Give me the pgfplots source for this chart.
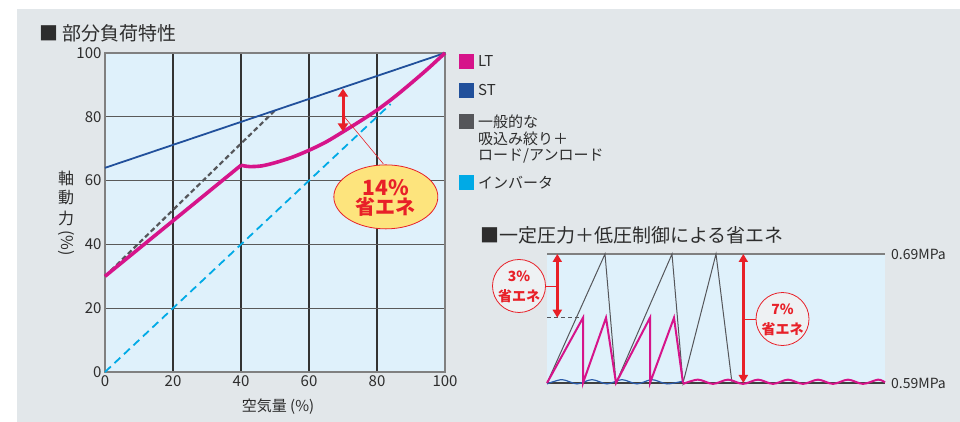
\documentclass[border=0pt]{standalone}
\usepackage{fontspec}
\setmainfont{Noto Sans CJK JP}
\usepackage{pgfplots}
\pgfplotsset{compat=1.18}
\usetikzlibrary{arrows.meta}
\definecolor{panel}{RGB}{226,231,234}
\definecolor{plotbg}{RGB}{223,241,251}
\definecolor{lt}{RGB}{214,20,138}
\definecolor{st}{RGB}{33,80,155}
\definecolor{gen}{RGB}{85,86,90}
\definecolor{inv}{RGB}{0,170,230}
\definecolor{myred}{RGB}{232,32,40}
\definecolor{bubble}{RGB}{253,228,125}
\definecolor{txt}{RGB}{45,45,45}
\definecolor{wave}{RGB}{42,92,170}
\definecolor{cfill}{RGB}{238,241,243}
\begin{document}
\begin{tikzpicture}[x=1pt,y=1pt]
\fill[white] (0pt,0pt) rectangle (960pt,422pt);
\fill[panel] (17pt,0pt) rectangle (960pt,413pt);

\begin{axis}[at={(105pt,50pt)}, anchor=south west, scale only axis,
  width=340pt, height=319pt,
  xmin=0, xmax=100, ymin=0, ymax=100,
  xtick={0,20,...,100}, ytick={0,20,...,100},
  grid=major, x grid style={black!80, line width=1.3pt},
  y grid style={black!65, line width=1.3pt},
  axis line style={black!50, line width=1.2pt},
  major tick length=0pt,
  axis background/.style={fill=plotbg},
  tick label style={font=\fontsize{15}{15}\selectfont, text=txt},
  /pgf/number format/assume math mode=true,
  clip=false]
\addplot[inv, line width=1.8pt, dash pattern=on 8pt off 5pt] coordinates {(0,0) (84,84)};
\addplot[gen, line width=2.2pt, dash pattern=on 5pt off 3pt] coordinates {(0,30) (50,82)};
\addplot[st, line width=1.8pt] coordinates {(0,64) (100,100)};
\addplot[lt, line width=3.6pt] coordinates {(0,30) (40,64.8)};
\addplot[lt, line width=3.6pt, smooth] coordinates {(40,64.8) (42.5,64.4) (46,64.6) (50,65.6) (55,67.3) (60,69.5) (65,72.1) (70,75.3) (75,78.6) (80,82.1) (85,86.1) (90,90.5) (95,95.1) (100,100)};
\draw[myred, line width=3pt, {Triangle[length=8pt,width=10pt]}-{Triangle[length=8pt,width=10pt]}] (axis cs:70,88.8) -- (axis cs:70,75.4);
\draw[myred, line width=0.6pt] (axis cs:70,80.5) -- (axis cs:81.9,65.2);
\draw[myred, line width=0.8pt, fill=bubble] (axis cs:82.6,54.9) ellipse [x radius=52pt, y radius=32pt];
\node[text=myred, font=\fontsize{21}{21}\bfseries] at (axis cs:82.6,57.8) {14\%};
\node[text=myred, font=\fontsize{20}{20}\bfseries] at (axis cs:82.6,51.8) {省エネ};
\end{axis}

\begin{axis}[at={(547pt,39pt)}, anchor=south west, scale only axis,
  width=338pt, height=129pt,
  xmin=0, xmax=338, ymin=0.59, ymax=0.69,
  axis line style={draw=none}, ticks=none,
  axis background/.style={fill=plotbg},
  clip=false]
\addplot[black!50, line width=1.8pt] coordinates {(0,0.69) (338,0.69)};
\addplot[black!75, line width=1.2pt] coordinates {(0,0.59) (338,0.59)};
\addplot[gen, line width=1pt, dash pattern=on 4pt off 3pt] coordinates {(0,0.6406) (36,0.6406)};
\addplot[gen, line width=1pt] coordinates {(0,0.59) (58,0.69) (69,0.59) (125,0.69) (136,0.59) (169,0.69) (185,0.59)};
\addplot[wave, line width=1.2pt, smooth] coordinates {(0,0.5893) (15,0.5926) (30,0.5893) (45,0.5926) (60,0.5893) (75,0.5926) (90,0.5893) (105,0.5926) (120,0.5893) (136,0.5915)};
\addplot[lt, line width=2pt, smooth] coordinates {(136,0.5893) (151,0.5926) (166,0.5893) (181,0.5926) (196,0.5893) (211,0.5926) (226,0.5893) (241,0.5926) (256,0.5893) (271,0.5926) (286,0.5893) (301,0.5926) (316,0.5893) (331,0.5926) (338,0.5905)};
\addplot[lt, line width=2pt] coordinates {(0,0.59) (36,0.6406) (36,0.59) (59,0.6406) (69,0.59) (103,0.6406) (103,0.59) (127,0.6406) (136,0.59)};
\draw[myred, line width=2.6pt, {Triangle[length=8pt,width=9pt]}-{Triangle[length=8pt,width=9pt]}] (axis cs:10.3,0.69) -- (axis cs:10.3,0.6406);
\draw[myred, line width=2.6pt, {Triangle[length=8pt,width=9pt]}-{Triangle[length=8pt,width=9pt]}] (axis cs:196.3,0.69) -- (axis cs:196.3,0.59);
\draw[myred, line width=0.6pt] (axis cs:-1.5,0.6652) -- (axis cs:10.3,0.6652);
\draw[myred, line width=0.6pt] (axis cs:196.3,0.6396) -- (axis cs:210,0.6396);
\draw[myred, line width=0.8pt, fill=cfill] (axis cs:-28,0.6652) circle [radius=26.5pt];
\draw[myred, line width=0.8pt, fill=cfill] (axis cs:235.5,0.6396) circle [radius=26.5pt];
\node[text=myred, font=\fontsize{14}{14}\bfseries] at (axis cs:-28,0.6725) {3\%};
\node[text=myred, font=\fontsize{14}{14}\bfseries] at (axis cs:-28,0.6575) {省エネ};
\node[text=myred, font=\fontsize{14}{14}\bfseries] at (axis cs:235.5,0.6469) {7\%};
\node[text=myred, font=\fontsize{14}{14}\bfseries] at (axis cs:235.5,0.6319) {省エネ};
\end{axis}

% titles
\node[anchor=west, text=txt, font=\fontsize{19}{19}\selectfont, inner sep=0] at (39pt,389pt) {■ 部分負荷特性};
\node[anchor=west, text=txt, font=\fontsize{19}{19}\selectfont, inner sep=0] at (480pt,187pt) {■一定圧力＋低圧制御による省エネ};
% axis labels
\node[text=txt, font=\fontsize{15}{15}\selectfont] at (278pt,15pt) {空気量 (\%)};
\begin{scope}[every node/.style={text=txt, font=\fontsize{16}{16}\selectfont, inner sep=0}]
\node at (66pt,244pt) {軸};
\node at (66pt,224pt) {動};
\node at (66pt,204pt) {力};
\node[rotate=-90] at (66pt,179pt) {(\%)};
\end{scope}
% legend
\fill[lt] (459pt,353pt) rectangle (474pt,368pt);
\fill[st] (459pt,324pt) rectangle (474pt,339pt);
\fill[gen] (459pt,293pt) rectangle (474pt,308pt);
\fill[inv] (459pt,232pt) rectangle (474pt,247pt);
\begin{scope}[every node/.style={anchor=west, text=txt, font=\fontsize{15}{15}\selectfont, inner sep=0}]
\node at (478pt,360.5pt) {LT};
\node at (478pt,331.5pt) {ST};
\node at (478pt,300.5pt) {一般的な};
\node at (478pt,283.5pt) {吸込み絞り＋};
\node at (478pt,266.5pt) {ロード/アンロード};
\node at (478pt,239.5pt) {インバータ};
\end{scope}
% MPa labels
\node[anchor=west, text=txt, font=\fontsize{14}{14}\selectfont, inner sep=0] at (891pt,168pt) {0.69MPa};
\node[anchor=west, text=txt, font=\fontsize{14}{14}\selectfont, inner sep=0] at (891pt,39pt) {0.59MPa};
\end{tikzpicture}
\end{document}
